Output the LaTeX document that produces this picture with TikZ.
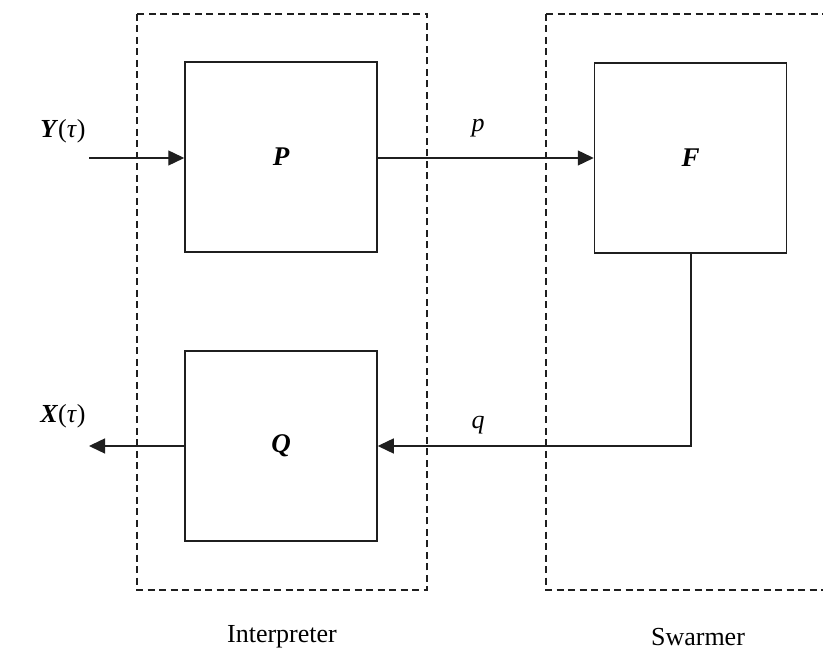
\documentclass[tikz,border=0pt]{standalone}
\usepackage{fontspec}
\setmainfont{Liberation Serif}
\usetikzlibrary{arrows.meta}
\begin{document}
\begin{tikzpicture}[x=1pt,y=-1pt,
  blk/.style={draw=black!88,line width=1.5pt,minimum width=192pt,minimum height=190pt,inner sep=0pt,font=\fontsize{27}{32}\selectfont\bfseries\itshape},
  grp/.style={draw=black!88,line width=1.4pt,dash pattern=on 7pt off 4.5pt},
  conn/.style={line width=1.4pt,draw=black!88,-{Triangle[length=16pt,width=15pt]}},
  lbl/.style={font=\fontsize{26}{30}\selectfont,inner sep=0pt}]
\useasboundingbox (0,0) rectangle (823,652);
\draw[grp] (137,14) rectangle (427,590);
\draw[grp] (546,14) -- (830,14);
\draw[grp] (546,14) -- (546,590) -- (830,590);
\node[blk] (P) at (281,157) {P};
\node[blk] (Q) at (281,446) {Q};
\node[blk] (F) at (690.5,158) {F};
\coordinate (yin) at (89,158);
\coordinate (xout) at (89,446);
\coordinate (fc) at (691,446);
\draw[conn] (yin) -- (P.west|-yin);
\draw[conn] (P.east|-yin) -- (F.west|-yin);
\draw[conn] (Q.west) -- (xout);
\draw[conn] (F.south-|fc) -- (fc) -- (Q.east);
\node[lbl] (ylab) at (63,131) {\textbf{\textit{Y}}(\textit{τ})};
\node[lbl] (xlab) at (63,416) {\textbf{\textit{X}}(\textit{τ})};
\node[lbl] (plab) at (478,128) {\textit{p}};
\node[lbl] (qlab) at (478,425) {\textit{q}};
\node[lbl] (ilab) at (282,637) {Interpreter};
\node[lbl] (slab) at (698,637) {Swarmer};
\end{tikzpicture}
\end{document}
